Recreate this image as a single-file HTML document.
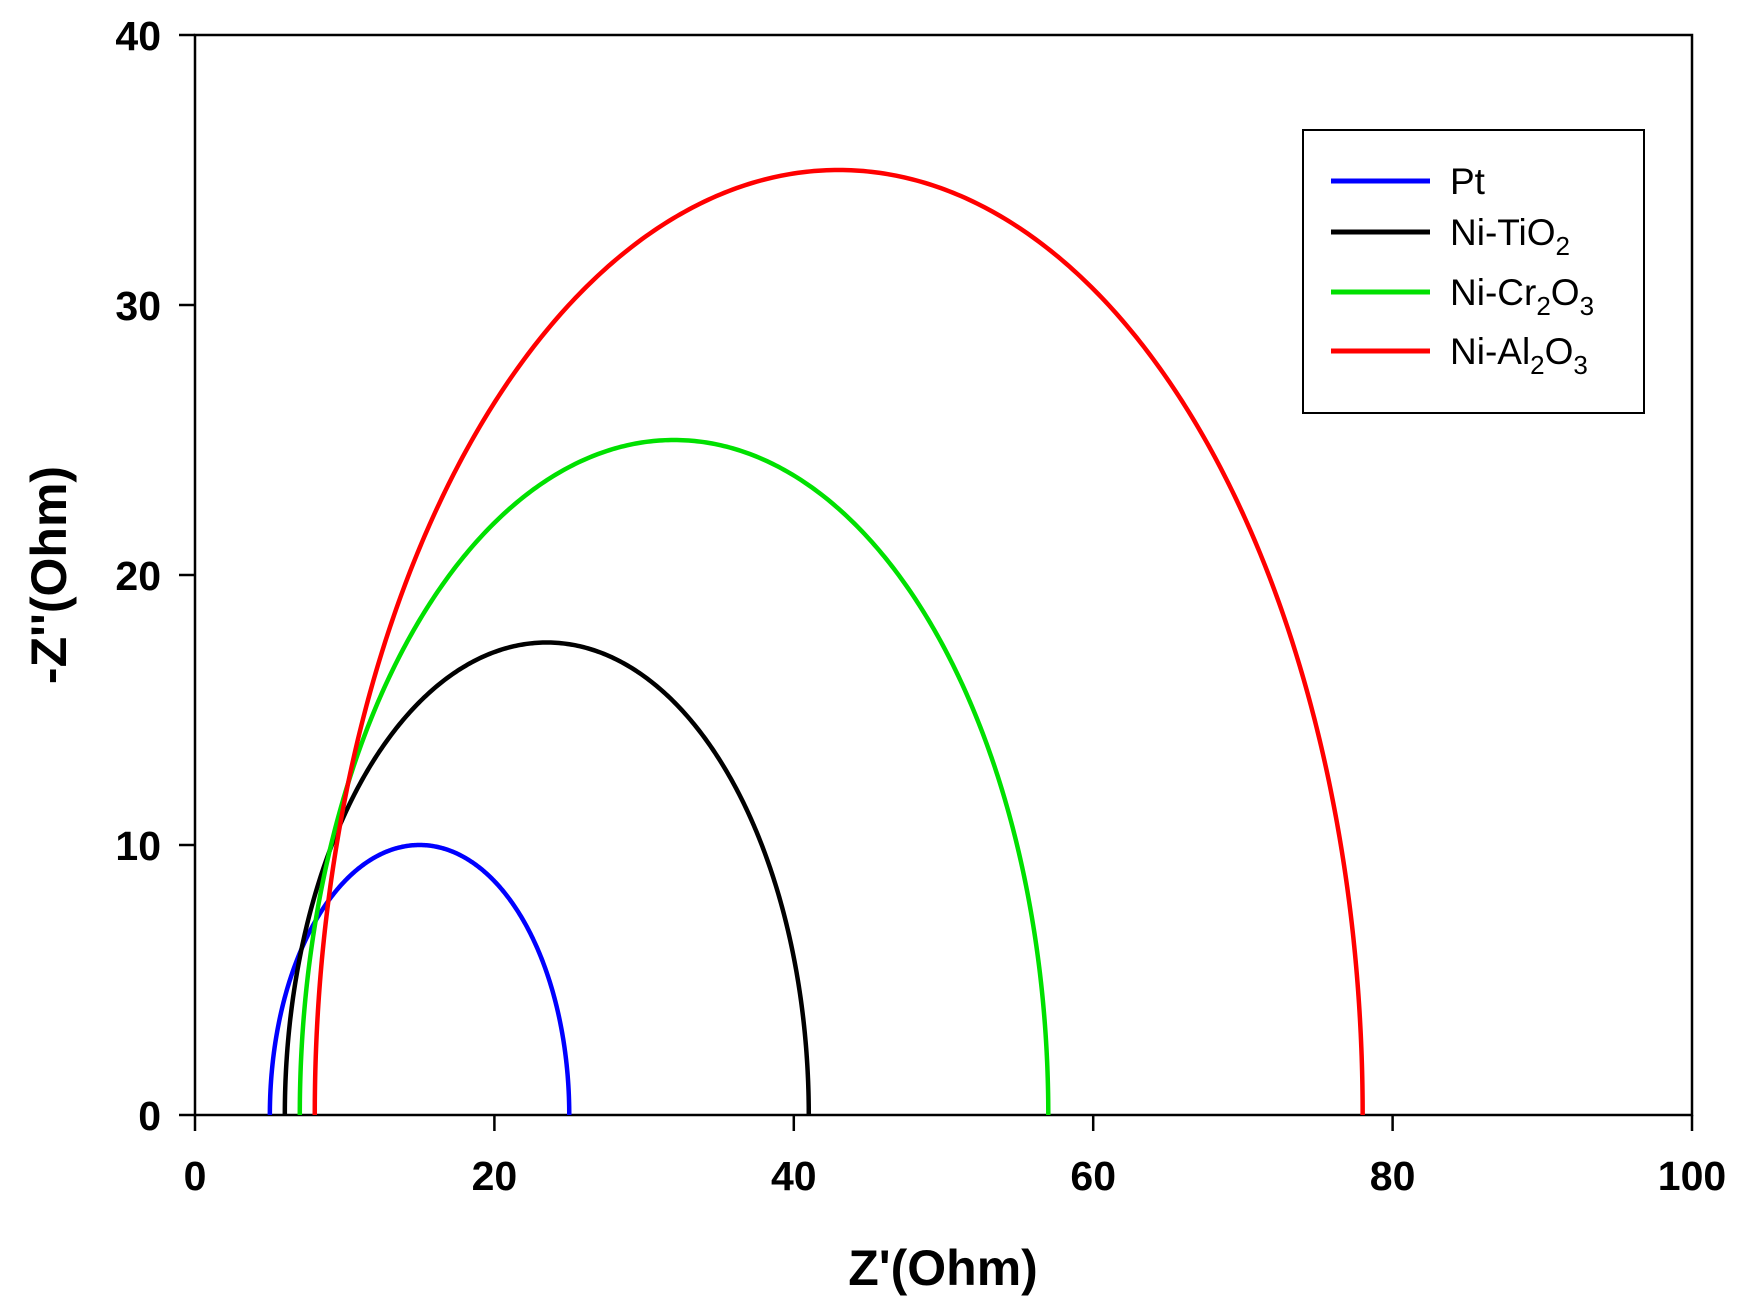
<!DOCTYPE html>
<html><head><style>body{margin:0;background:#fff}svg{display:block}</style></head><body>
<svg id="s" width="1742" height="1313" xmlns="http://www.w3.org/2000/svg" font-family="Liberation Sans, Arial, sans-serif">
<rect width="1742" height="1313" fill="#fff"/>
<g stroke="#000" stroke-width="2.5" fill="none">
<rect x="195" y="35" width="1497" height="1080"/>
<line x1="195" y1="1115" x2="195" y2="1131"/><line x1="494.4" y1="1115" x2="494.4" y2="1131"/><line x1="793.8" y1="1115" x2="793.8" y2="1131"/><line x1="1093.2" y1="1115" x2="1093.2" y2="1131"/><line x1="1392.6" y1="1115" x2="1392.6" y2="1131"/><line x1="1692" y1="1115" x2="1692" y2="1131"/>
<line x1="179" y1="35" x2="195" y2="35"/><line x1="179" y1="305" x2="195" y2="305"/><line x1="179" y1="575" x2="195" y2="575"/><line x1="179" y1="845" x2="195" y2="845"/><line x1="179" y1="1115" x2="195" y2="1115"/>
</g>
<g font-size="41" font-weight="bold" fill="#000">
<g text-anchor="end"><text x="161" y="50">40</text><text x="161" y="320">30</text><text x="161" y="590">20</text><text x="161" y="860">10</text><text x="161" y="1130">0</text></g>
<g text-anchor="middle"><text x="195" y="1190">0</text><text x="494.4" y="1190">20</text><text x="793.8" y="1190">40</text><text x="1093.2" y="1190">60</text><text x="1392.6" y="1190">80</text><text x="1692" y="1190">100</text></g>
</g>
<text x="943" y="1285" font-size="50" font-weight="bold" text-anchor="middle">Z'(Ohm)</text>
<text transform="translate(66,575) rotate(-90)" font-size="50" font-weight="bold" text-anchor="middle">-Z''(Ohm)</text>
<g fill="none" stroke-width="4.5" id="curves">
<path id="c1" stroke="#0000ff"/>
<path id="c2" stroke="#000"/>
<path id="c3" stroke="#00e000"/>
<path id="c4" stroke="#ff0000"/>
</g>
<rect x="1303" y="130" width="341" height="283" fill="#fff" stroke="#000" stroke-width="2"/>
<g stroke-width="5"><line x1="1331" y1="181" x2="1430" y2="181" stroke="#0000ff"/><line x1="1331" y1="232" x2="1430" y2="232" stroke="#000"/><line x1="1331" y1="292" x2="1430" y2="292" stroke="#00e000"/><line x1="1331" y1="351" x2="1430" y2="351" stroke="#ff0000"/></g>
<g font-size="37" fill="#000">
<text x="1450" y="194">Pt</text>
<text x="1450" y="245">Ni-TiO<tspan font-size="26" dy="10">2</tspan></text>
<text x="1450" y="305">Ni-Cr<tspan font-size="26" dy="10">2</tspan><tspan dy="-10">O</tspan><tspan font-size="26" dy="10">3</tspan></text>
<text x="1450" y="364">Ni-Al<tspan font-size="26" dy="10">2</tspan><tspan dy="-10">O</tspan><tspan font-size="26" dy="10">3</tspan></text>
</g>
</svg>
<script>
function X(v){return 195+v*14.97}function Y(v){return 1115-v*27}
[[1,5,25,10],[2,6,41,17.5],[3,7,57,25],[4,8,78,35]].forEach(function(c){
var cx=(c[1]+c[2])/2,r=(c[2]-c[1])/2,h=c[3],d="";
for(var i=0;i<=400;i++){var t=Math.PI-Math.PI*i/400;var x=cx+r*Math.cos(t),y=h*Math.sin(t);d+=(i?"L":"M")+X(x).toFixed(2)+","+Y(y).toFixed(2);}
document.getElementById("c"+c[0]).setAttribute("d",d);});
</script>
</body></html>
